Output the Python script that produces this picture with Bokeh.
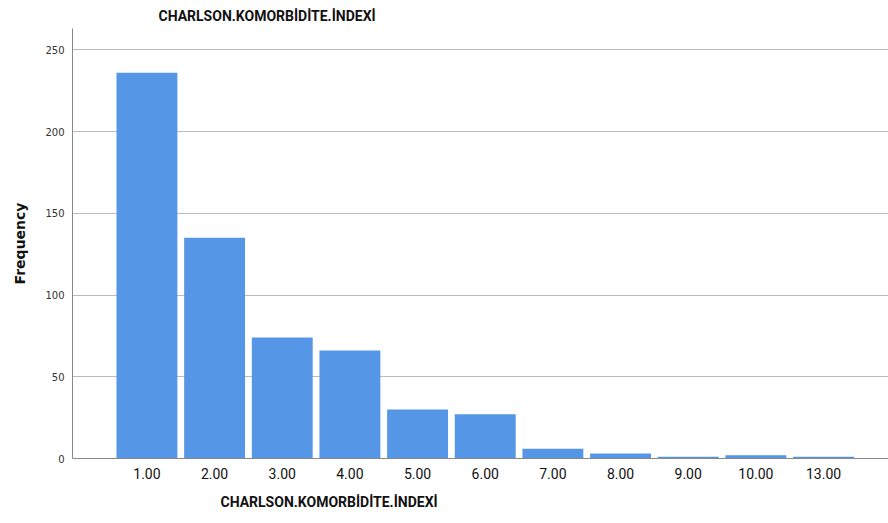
from bokeh.plotting import figure
from bokeh.models import Title, FixedTicker, Range1d
from bokeh.embed import file_html
from bokeh.resources import INLINE

categories = ["1.00", "2.00", "3.00", "4.00", "5.00", "6.00", "7.00", "8.00", "9.00", "10.00", "13.00"]
frequency = [236, 135, 74, 66, 30, 27, 6, 3, 1, 2, 1]
y_ticks = [0, 50, 100, 150, 200, 250]
title_text = "CHARLSON.KOMORBİDİTE.İNDEXİ"

xs = list(range(len(categories)))

FONT = "Roboto"

p = figure(width=888, height=523, output_backend="svg", toolbar_location=None,
           x_range=Range1d(-1.1, 10.96), y_range=Range1d(0, 263),
           min_border_left=72, min_border_right=0, min_border_top=4, min_border_bottom=65)

p.vbar(x=xs, top=frequency, width=0.9, bottom=0, fill_color="#5596E6", line_color=None)

p.title = Title(text=title_text, align="left", offset=86,
                text_font=FONT, text_font_size="14px", text_font_style="bold",
                text_color="#111111", standoff=10)

bt = Title(text=title_text, align="left", offset=148,
           text_font=FONT, text_font_size="14px", text_font_style="bold",
           text_color="#111111", standoff=21)
p.add_layout(bt, "below")

p.xaxis.ticker = FixedTicker(ticks=xs)
p.xaxis.major_label_overrides = {i: c for i, c in enumerate(categories)}
p.xaxis.major_label_text_font = FONT
p.xaxis.major_label_text_font_size = "14px"
p.xaxis.major_label_text_color = "#111111"
p.xaxis.major_tick_line_color = None
p.xaxis.minor_tick_line_color = None
p.xaxis.axis_line_color = "#888888"
p.xaxis.major_label_standoff = 3

p.yaxis.ticker = FixedTicker(ticks=y_ticks)
p.yaxis.major_label_text_font = "DejaVu Sans"
p.yaxis.major_label_text_font_size = "10px"
p.yaxis.major_label_text_color = "#333333"
p.yaxis.major_tick_line_color = None
p.yaxis.minor_tick_line_color = None
p.yaxis.axis_line_color = "#888888"
p.yaxis.axis_label = "Frequency"
p.yaxis.axis_label_text_font = "DejaVu Sans"
p.yaxis.axis_label_text_font_size = "14px"
p.yaxis.axis_label_text_font_style = "bold"
p.yaxis.axis_label_text_color = "#111111"
p.yaxis.major_label_standoff = 2
p.yaxis.axis_label_standoff = 14

p.xgrid.grid_line_color = None
p.ygrid.grid_line_color = "#BBBBBB"
p.ygrid.grid_line_width = 1
p.outline_line_color = None

open("out.html", "w").write(file_html(p, INLINE))
